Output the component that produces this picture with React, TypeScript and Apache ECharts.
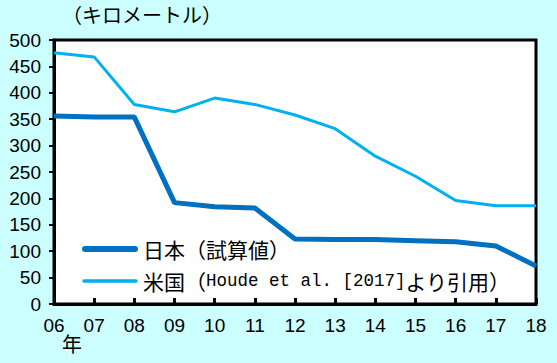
import React, { useEffect, useRef } from "react";
import * as echarts from "echarts";

const years = ["06", "07", "08", "09", "10", "11", "12", "13", "14", "15", "16", "17", "18"];
const japan = [356, 354, 354, 192, 184, 182, 123, 122, 122, 120, 118, 110, 72];
const usa = [476, 468, 378, 364, 390, 378, 358, 332, 280, 242, 196, 186, 186];
const japanName = "日本（試算値）";
const usaNameParts = ["米国（", "Houde et al. [2017]", "より引用）"];
const unitLabel = "（キロメートル）";
const yearLabel = "年";

const japanColor = "#0070c0";
const usaColor = "#00b0f0";

export default function App() {
  const ref = useRef<HTMLDivElement>(null);
  useEffect(() => {
    if (!ref.current) return;
    const chart = echarts.init(ref.current, null, { renderer: "svg" });
    const numFont = "'Liberation Sans', Arial, sans-serif";
    const jpFont = "'Noto Sans CJK JP', sans-serif";
    const monoFont = "'Liberation Mono', 'DejaVu Sans Mono', monospace";
    chart.setOption({
      animation: false,
      backgroundColor: "#ccffff",
      grid: {
        left: 54,
        right: 21,
        top: 40,
        bottom: 59,
        show: true,
        backgroundColor: "#ffffff",
        borderColor: "#000000",
        borderWidth: 3,
      },
      graphic: [
        {
          type: "text",
          left: 62,
          top: 4,
          style: { text: unitLabel, fontFamily: jpFont, fontSize: 20, fill: "#000" },
        },
        {
          type: "text",
          left: 62,
          top: 333,
          style: { text: yearLabel, fontFamily: jpFont, fontSize: 20, fill: "#000" },
        },
        {
          type: "line",
          shape: { x1: 85, y1: 249, x2: 135, y2: 249 },
          style: { stroke: japanColor, lineWidth: 6, lineCap: "round" },
        },
        {
          type: "text",
          x: 143,
          y: 249,
          style: {
            text: japanName,
            fontFamily: jpFont,
            fontSize: 21,
            fill: "#000",
            verticalAlign: "middle",
          },
        },
        {
          type: "line",
          shape: { x1: 84, y1: 281, x2: 136, y2: 281 },
          style: { stroke: usaColor, lineWidth: 3.5, lineCap: "round" },
        },
        {
          type: "text",
          x: 143,
          y: 281,
          style: {
            text:
              "{j|" + usaNameParts[0] + "}{m|" + usaNameParts[1] + "}{j|" + usaNameParts[2] + "}",
            verticalAlign: "middle",
            rich: {
              j: { fontFamily: jpFont, fontSize: 21, fill: "#000", color: "#000" },
              m: { fontFamily: monoFont, fontSize: 17.5, fill: "#000", color: "#000" },
            },
          },
        },
      ],
      xAxis: {
        type: "category",
        data: years,
        boundaryGap: false,
        axisLine: { lineStyle: { color: "#000", width: 3 } },
        axisTick: { inside: true, length: 6, lineStyle: { color: "#000", width: 3 } },
        axisLabel: { margin: 12, fontFamily: numFont, fontSize: 19, color: "#000" },
        splitLine: { show: false },
      },
      yAxis: {
        type: "value",
        min: 0,
        max: 500,
        interval: 50,
        axisLine: { show: true, lineStyle: { color: "#000", width: 3 } },
        axisTick: { show: true, length: 5, lineStyle: { color: "#000", width: 2 } },
        axisLabel: { margin: 13, fontFamily: numFont, fontSize: 19, color: "#000" },
        splitLine: { show: false },
      },
      series: [
        {
          name: japanName,
          type: "line",
          data: japan,
          symbol: "none",
          lineStyle: { color: japanColor, width: 5 },
          itemStyle: { color: japanColor },
        },
        {
          name: usaNameParts.join(""),
          type: "line",
          data: usa,
          symbol: "none",
          lineStyle: { color: usaColor, width: 3 },
          itemStyle: { color: usaColor },
        },
      ],
    });
    return () => chart.dispose();
  }, []);
  return (
    <div
      ref={ref}
      style={{ position: "fixed", left: 0, top: 0, width: 557, height: 363 }}
    />
  );
}
